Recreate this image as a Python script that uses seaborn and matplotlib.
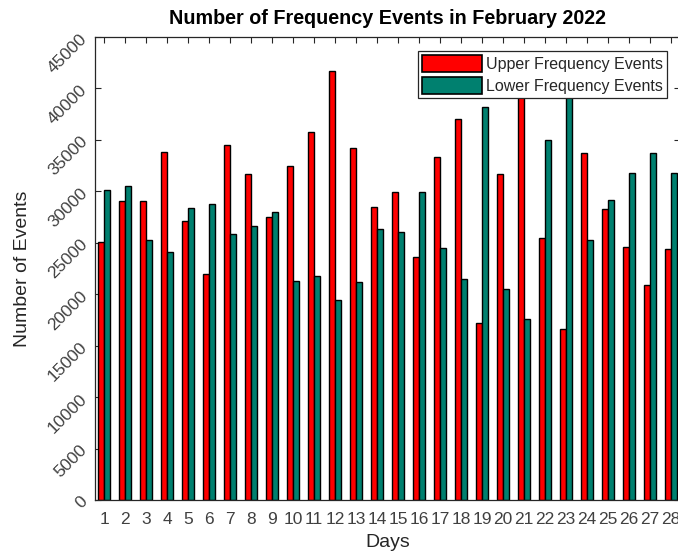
import pandas as pd
import seaborn as sns
import matplotlib.pyplot as plt

days = list(range(1, 29))
upper_events = [25100, 29100, 29050, 33800, 27100, 22000, 34500, 31700, 27500, 32500,
                35800, 41700, 34200, 28500, 29900, 23600, 33300, 37000, 17200, 31700,
                40000, 25500, 16600, 33700, 28300, 24600, 20900, 24400]
lower_events = [30100, 30500, 25300, 24100, 28400, 28800, 25900, 26600, 28000, 21300,
                21800, 19400, 21200, 26300, 26000, 29900, 24500, 21500, 38200, 20500,
                17600, 35000, 39800, 25300, 29200, 31800, 33700, 31800]
series_names = ["Upper Frequency Events", "Lower Frequency Events"]
palette = ["#FF0000", "#00806F"]

df = pd.DataFrame({
    "Days": [str(d) for d in days] * 2,
    "Events": upper_events + lower_events,
    "Series": [series_names[0]] * len(days) + [series_names[1]] * len(days),
})

sns.set_style("white")
plt.rcParams["font.family"] = ["Liberation Sans", "DejaVu Sans"]

fig = plt.figure(figsize=(6.78, 5.57), dpi=100)
ax = fig.add_axes([95 / 678, 1 - 500 / 557, 585 / 678, 463 / 557])

sns.barplot(data=df, x="Days", y="Events", hue="Series", palette=palette,
            saturation=1, width=0.54, edgecolor="black", linewidth=1.0,
            ax=ax, errorbar=None)

ax.set_xlim(-0.43, 27.43)
ax.set_ylim(0, 45000)
ax.set_yticks(range(0, 45001, 5000))
ax.set_yticklabels([str(v) for v in range(0, 45001, 5000)], rotation=45,
                   fontsize=12.5, color="#404040")
ax.tick_params(axis="x", labelsize=12.5, labelcolor="#404040", pad=9)
ax.tick_params(direction="in", top=True, right=True, length=4, width=0.8,
               color="#262626", bottom=True, left=True)
for s in ax.spines.values():
    s.set_color("#262626")
    s.set_linewidth(0.9)

ax.set_title("Number of Frequency Events in February 2022", fontsize=14.2,
             fontweight="bold", color="black", pad=9)
ax.set_xlabel("Days", fontsize=14, color="#262626", labelpad=5)
ax.set_ylabel("Number of Events", fontsize=14, color="#262626", labelpad=10)

leg = ax.legend(loc="upper right", bbox_to_anchor=(0.977, 0.97), fontsize=11.5,
                frameon=True, fancybox=False, edgecolor="#262626",
                handlelength=3.8, handleheight=1.3, handletextpad=0.2,
                borderpad=0.25, labelspacing=0.3, borderaxespad=0)
leg.get_frame().set_linewidth(0.9)
leg.get_frame().set_alpha(1)
for h in leg.legend_handles:
    h.set_edgecolor("black")
    h.set_linewidth(1.2)

fig.savefig("out.png", dpi=100)
